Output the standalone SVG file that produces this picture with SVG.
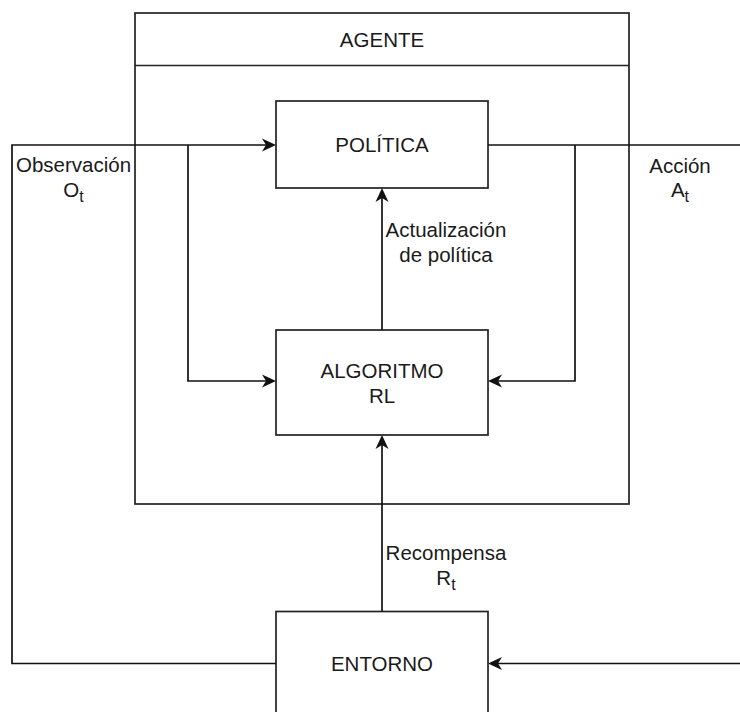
<svg xmlns="http://www.w3.org/2000/svg" width="740" height="712" viewBox="0 0 740 712">
  <style>
    .box { fill: #ffffff; stroke: #222222; stroke-width: 1.7; }
    .wire { fill: none; stroke: #111111; stroke-width: 1.7; }
    .lbl { font-family: "Liberation Sans", Arial, sans-serif; font-size: 20.5px; fill: #1a1a1a; text-anchor: middle; }
    .sub { font-size: 16px; }
  </style>
  <defs>
    <!-- classic notched arrowhead; reference point is the notch, tip extends 10px ahead -->
    <marker id="arrow" markerUnits="userSpaceOnUse" markerWidth="16" markerHeight="16" viewBox="-1 -8 16 16" refX="4" refY="0" orient="auto">
      <path d="M0,-6.5 L14,0 L0,6.5 L4,0 Z" fill="#111111"/>
    </marker>
  </defs>

  <rect width="740" height="712" fill="#ffffff"/>

  <!-- agent container with header -->
  <g id="agente">
    <rect class="box" x="135" y="13" width="494" height="491"/>
    <line class="box" x1="135" y1="65.5" x2="629" y2="65.5"/>
    <text class="lbl" x="382" y="47">AGENTE</text>
  </g>

  <g id="politica">
    <rect class="box" x="276" y="101" width="212" height="87"/>
    <text class="lbl" x="382" y="152">POLÍTICA</text>
  </g>

  <g id="algoritmo">
    <rect class="box" x="276" y="330" width="212" height="105"/>
    <text class="lbl" x="382" y="378">ALGORITMO</text>
    <text class="lbl" x="382" y="403">RL</text>
  </g>

  <g id="entorno">
    <rect class="box" x="276" y="611.5" width="212" height="130"/>
    <text class="lbl" x="382" y="671">ENTORNO</text>
  </g>

  <g id="connectors">
    <!-- observation: environment to policy -->
    <path class="wire" d="M276,663.5 H12 V145 H266" marker-end="url(#arrow)"/>
    <path class="wire" d="M188,145 V381 H266" marker-end="url(#arrow)"/>
    <!-- action: policy out, back into environment -->
    <path class="wire" d="M488,145 H742"/>
    <path class="wire" d="M742,663.5 H498" marker-end="url(#arrow)"/>
    <path class="wire" d="M575,145 V381 H498" marker-end="url(#arrow)"/>
    <!-- policy update -->
    <path class="wire" d="M382,330 V198" marker-end="url(#arrow)"/>
    <!-- reward -->
    <path class="wire" d="M382,611.5 V445" marker-end="url(#arrow)"/>
  </g>

  <g id="labels">
    <text class="lbl" x="73.5" y="172">Observación</text>
    <text class="lbl" x="73.5" y="197">O<tspan class="sub" dy="5">t</tspan></text>
    <text class="lbl" x="680" y="173">Acción</text>
    <text class="lbl" x="680" y="197">A<tspan class="sub" dy="5">t</tspan></text>
    <text class="lbl" x="446" y="237">Actualización</text>
    <text class="lbl" x="446" y="262">de política</text>
    <text class="lbl" x="446" y="560">Recompensa</text>
    <text class="lbl" x="446" y="585">R<tspan class="sub" dy="5">t</tspan></text>
  </g>
</svg>
